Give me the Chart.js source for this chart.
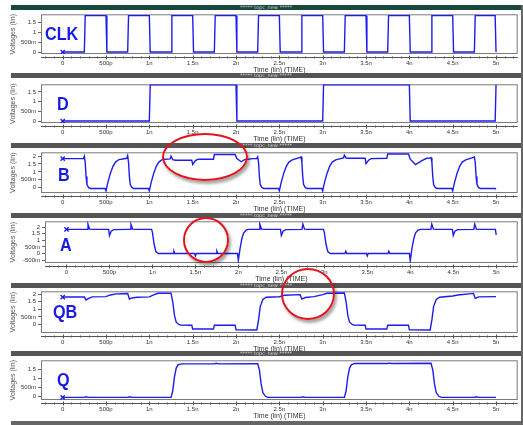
<!DOCTYPE html>
<html>
<head>
<meta charset="utf-8">
<title>topc_new</title>
<script src="https://cdn.jsdelivr.net/npm/chart.js@4.4.1/dist/chart.umd.min.js"></script>
<style>
  html, body { margin: 0; padding: 0; background: #fff; }
  #sheet { position: relative; width: 523px; height: 425px; overflow: hidden; background: #fff; }
  .bar { position: absolute; left: 11px; width: 510px; height: 5px; background: #555;
         color: #d4d4d4; font: 5px/5px "DejaVu Sans", sans-serif; text-align: center; }
  .bar.first { background: #18473b; }
  .edge { position: absolute; background: #666; }
  canvas { position: absolute; left: 0; }
  .name { position: absolute; color: #1a1ae6; font: bold 18px/18px "Liberation Sans", Arial, sans-serif;
          transform: scaleX(0.9); transform-origin: left top; }
  .ring { position: absolute; box-sizing: border-box; border: 2.5px solid #e3141c; border-radius: 50%;
          box-shadow: 2px 3px 3px rgba(0,0,0,0.35); }
</style>
</head>
<body>
<div id="sheet"></div>
<script>
// time in ns, voltages in V

const timeTicks = [0, 0.5, 1, 1.5, 2, 2.5, 3, 3.5, 4, 4.5, 5];
const timeLabels = ['0', '500p', '1n', '1.5n', '2n', '2.5n', '3n', '3.5n', '4n', '4.5n', '5n'];

const voltTicks = [-0.5, 0, 0.5, 1, 1.5, 2];
const voltLabels = ['-500m', '0', '500m', '1', '1.5', '2'];

const clkTime = [0,
  0.25, 0.26, 0.5, 0.51, 0.75, 0.76, 1, 1.01,
  1.25, 1.26, 1.5, 1.51, 1.75, 1.76, 2, 2.01,
  2.25, 2.26, 2.5, 2.51, 2.75, 2.76, 3, 3.01,
  3.25, 3.26, 3.5, 3.51, 3.75, 3.76, 4, 4.01,
  4.25, 4.26, 4.5, 4.51, 4.75, 4.76, 4.99, 5];
const clkVolt = [0,
  0, 1.86, 1.86, 0, 0, 1.86, 1.86, 0,
  0, 1.86, 1.86, 0, 0, 1.86, 1.86, 0,
  0, 1.86, 1.86, 0, 0, 1.86, 1.86, 0,
  0, 1.86, 1.86, 0, 0, 1.86, 1.86, 0,
  0, 1.86, 1.86, 0, 0, 1.86, 1.86, 0];

const dTime = [0, 1, 1.01, 2, 2.01, 3, 3.01, 4, 4.01, 4.99, 5];
const dVolt = [0, 0, 1.86, 1.86, 0, 0, 1.86, 1.86, 0, 0, 1.86];

const bTime = [
  0, 0.24,
  0.25, 0.26, 0.27, 0.28, 0.3, 0.32, 0.49,
  0.5, 0.52, 0.55, 0.58, 0.61, 0.65, 0.74,
  0.75, 0.76, 0.77, 0.78, 0.8, 0.82, 0.99,
  1.0, 1.02, 1.05, 1.08, 1.11, 1.15, 1.24,
  1.25, 1.27, 1.3, 1.49, 1.5, 1.53, 1.56, 1.74, 1.75,
  1.99, 2.01, 2.06, 2.1, 2.2, 2.24,
  2.25, 2.26, 2.27, 2.28, 2.3, 2.32, 2.49,
  2.5, 2.52, 2.55, 2.58, 2.61, 2.65, 2.74,
  2.75, 2.76, 2.77, 2.78, 2.8, 2.82, 2.99,
  3.0, 3.02, 3.05, 3.08, 3.11, 3.15, 3.24,
  3.25, 3.27, 3.3, 3.49, 3.5, 3.53, 3.56, 3.74, 3.75,
  3.99, 4.01, 4.07, 4.14, 4.2, 4.24,
  4.25, 4.26, 4.27, 4.28, 4.3, 4.32, 4.49,
  4.5, 4.52, 4.55, 4.58, 4.61, 4.65, 4.74,
  4.75, 4.76, 4.77, 4.78, 4.8, 4.82, 4.99, 5.0
];
const bVolt = [
  1.84, 1.85,
  2.0, 1.6, 0.7, 0.2, 0.0, -0.05, -0.05,
  -0.2, 0.3, 0.9, 1.35, 1.62, 1.78, 1.86,
  2.02, 1.6, 0.7, 0.2, 0.0, -0.05, -0.05,
  -0.2, 0.3, 0.9, 1.35, 1.62, 1.78, 1.82,
  2.0, 1.78, 1.74, 1.74, 1.47, 1.7, 1.8, 1.8, 2.1,
  2.1, 1.84, 1.64, 1.78, 1.84, 1.85,
  1.95, 1.6, 0.7, 0.2, 0.0, -0.05, -0.05,
  -0.2, 0.3, 0.9, 1.35, 1.62, 1.76, 1.92,
  1.95, 1.6, 0.7, 0.2, 0.0, -0.05, -0.05,
  -0.2, 0.3, 0.9, 1.35, 1.62, 1.76, 1.88,
  2.06, 1.88, 1.86, 1.86, 1.52, 1.74, 1.84, 1.86, 2.13,
  2.13, 1.8, 1.46, 1.7, 1.86, 1.87,
  1.9, 1.6, 0.7, 0.2, 0.0, -0.05, -0.05,
  -0.2, 0.3, 0.9, 1.35, 1.62, 1.76, 1.92,
  1.95, 1.6, 0.7, 0.2, 0.0, -0.05, -0.05, -0.1
];

const aTime = [
  0, 0.24, 0.25, 0.27, 0.3,
  0.49, 0.5, 0.52, 0.55,
  0.74, 0.75, 0.77, 0.8,
  0.99, 1.0, 1.02, 1.04, 1.07,
  1.24, 1.25, 1.26, 1.49, 1.5, 1.51, 1.74, 1.75, 1.76,
  1.99, 2.0, 2.02, 2.04, 2.06, 2.09, 2.12,
  2.24, 2.25, 2.27, 2.3,
  2.49, 2.5, 2.52, 2.55,
  2.74, 2.75, 2.77, 2.8,
  2.99, 3.0, 3.02, 3.04, 3.07,
  3.24, 3.25, 3.26, 3.49, 3.5, 3.51, 3.74, 3.75, 3.76,
  3.99, 4.0, 4.02, 4.04, 4.06, 4.09, 4.12,
  4.24, 4.25, 4.27, 4.3,
  4.49, 4.5, 4.52, 4.55,
  4.74, 4.75, 4.77, 4.8,
  4.99, 5.0
];
const aVolt = [
  1.82, 1.82, 2.22, 1.84, 1.82,
  1.82, 1.36, 1.68, 1.8,
  1.82, 2.2, 1.84, 1.82,
  1.82, 1.6, 0.7, 0.15, 0.0,
  0.0, 0.17, 0.0, 0.0, -0.18, 0.0, 0.0, 0.17, 0.0,
  0.0, -0.5, 0.4, 1.1, 1.55, 1.76, 1.82,
  1.82, 2.22, 1.84, 1.82,
  1.82, 1.36, 1.68, 1.8,
  1.82, 2.22, 1.84, 1.82,
  1.82, 1.6, 0.7, 0.15, 0.0,
  0.0, 0.17, 0.0, 0.0, -0.18, 0.0, 0.0, 0.17, 0.0,
  0.0, -0.55, 0.4, 1.1, 1.55, 1.76, 1.82,
  1.82, 2.22, 1.84, 1.82,
  1.82, 1.36, 1.68, 1.8,
  1.82, 2.22, 1.84, 1.82,
  1.82, 1.4
];

const qbTime = [
  0, 0.25, 0.27, 0.3, 0.34,
  0.5, 0.55, 0.62, 0.75, 0.77, 0.8, 0.86,
  1.0, 1.05, 1.1, 1.25,
  1.27, 1.29, 1.31, 1.34, 1.36,
  1.49, 1.5, 1.74, 1.75, 1.99, 2.0, 2.24,
  2.26, 2.28, 2.31, 2.35,
  2.5, 2.56, 2.74, 2.76, 2.8, 2.9,
  3.0, 3.05, 3.25,
  3.27, 3.29, 3.31, 3.34, 3.36,
  3.49, 3.5, 3.74, 3.75, 3.99, 4.0, 4.24,
  4.26, 4.28, 4.31, 4.35,
  4.5, 4.56, 4.74, 4.76, 4.8, 5.0
];
const qbVolt = [
  1.81, 1.81, 1.62, 1.72, 1.82,
  1.84, 1.95, 2.02, 2.04, 1.68, 1.75, 1.8,
  1.82, 1.95, 2.06, 2.07,
  1.5, 0.6, 0.15, 0.0, -0.04,
  -0.05, -0.3, -0.3, -0.04, -0.05, -0.35, -0.36,
  0.3, 1.2, 1.65, 1.8,
  1.83, 1.93, 1.97, 1.68, 1.78, 1.84,
  1.97, 2.06, 2.08,
  1.5, 0.6, 0.15, 0.0, -0.04,
  -0.05, -0.3, -0.3, -0.04, -0.05, -0.35, -0.36,
  0.3, 1.2, 1.65, 1.8,
  1.88, 1.95, 2.05, 1.72, 1.82, 1.84
];

const qTime = [
  0, 0.25, 0.27, 0.3, 0.75, 0.77, 0.8,
  1.25, 1.27, 1.29, 1.31, 1.33, 1.37,
  1.75, 1.77, 1.8, 2.25,
  2.27, 2.29, 2.31, 2.34, 2.37,
  2.75, 2.77, 2.8, 3.25,
  3.27, 3.29, 3.31, 3.33, 3.37,
  3.75, 3.77, 3.8, 4.25,
  4.27, 4.29, 4.31, 4.34, 4.37,
  4.75, 4.77, 4.8, 5.0
];
const qVolt = [
  -0.06, -0.06, -0.03, -0.06, -0.06, -0.03, -0.06,
  -0.06, 0.3, 1.1, 1.6, 1.78, 1.84,
  1.84, 1.87, 1.84, 1.85,
  1.5, 0.7, 0.2, 0.0, -0.06,
  -0.06, -0.03, -0.06, -0.06,
  0.3, 1.1, 1.6, 1.78, 1.86,
  1.86, 1.88, 1.86, 1.87,
  1.5, 0.7, 0.2, 0.0, -0.06,
  -0.06, -0.03, -0.06, -0.06
];

// panel layout (pixels) and per panel voltage window
const panels = [
  { name: 'CLK', time: clkTime, volt: clkVolt, yMin: -0.1, yMax: 1.93, yTicks: [0, 0.5, 1, 1.5],
    bar: 5, top: 12, bottom: 54, left: 41, nameAt: [45, 25] },
  { name: 'D', time: dTime, volt: dVolt, yMin: -0.1, yMax: 1.89, yTicks: [0, 0.5, 1, 1.5],
    bar: 73, top: 82, bottom: 123, left: 41, nameAt: [57, 95] },
  { name: 'B', time: bTime, volt: bVolt, yMin: -0.34, yMax: 2.24, yTicks: [0, 0.5, 1, 1.5, 2],
    bar: 143, top: 150, bottom: 193, left: 41, nameAt: [58, 166] },
  { name: 'A', time: aTime, volt: aVolt, yMin: -0.71, yMax: 2.43, yTicks: [-0.5, 0, 0.5, 1, 1.5, 2],
    bar: 213, top: 219, bottom: 263, left: 45, nameAt: [60, 236] },
  { name: 'QB', time: qbTime, volt: qbVolt, yMin: -0.56, yMax: 2.19, yTicks: [0, 0.5, 1, 1.5, 2],
    bar: 283, top: 289, bottom: 333, left: 41, nameAt: [53, 303] },
  { name: 'Q', time: qTime, volt: qVolt, yMin: -0.21, yMax: 2.04, yTicks: [0, 0.5, 1, 1.5],
    bar: 351, top: 358, bottom: 400, left: 41, nameAt: [57, 371] }
];

const rings = [
  { left: 162, top: 133, w: 86, h: 48 },
  { left: 183, top: 217, w: 46, h: 46 },
  { left: 281, top: 268, w: 54, h: 52 }
];

const LINE = '#1c1cef';

Chart.defaults.font.family = '"Liberation Sans", Arial, sans-serif';

const timeLabel = (v) => {
  const i = timeTicks.findIndex(t => Math.abs(t - v) < 1e-6);
  return i < 0 ? '' : timeLabels[i];
};
const voltLabel = (v) => {
  const i = voltTicks.findIndex(t => Math.abs(t - v) < 1e-6);
  return i < 0 ? '' : voltLabels[i];
};

// ruler ticks every 100p across the whole window
const rulerTicks = () => {
  const out = [];
  for (let k = -2; k <= 52; k++) out.push({ value: k / 10 });
  return out;
};

// plot frame plus the separate time ruler under it
const frameRuler = {
  id: 'frameRuler',
  beforeDatasetsDraw(chart) {
    const { ctx, chartArea: a, scales: { x } } = chart;
    ctx.save();
    ctx.lineWidth = 1;
    ctx.strokeStyle = '#7a7a7a';
    ctx.strokeRect(a.left + 0.5, a.top + 0.5, a.width - 1, a.height - 1);
    const yl = a.bottom + 3.5;
    ctx.strokeStyle = '#555';
    ctx.beginPath();
    ctx.moveTo(a.left, yl);
    ctx.lineTo(a.right, yl);
    x.ticks.forEach(t => {
      const px = Math.round(x.getPixelForValue(t.value)) + 0.5;
      const major = timeLabel(t.value) !== '';
      ctx.moveTo(px, yl - (major ? 2 : 1));
      ctx.lineTo(px, yl + (major ? 2 : 1));
    });
    ctx.stroke();
    ctx.restore();
  }
};

const sheet = document.getElementById('sheet');

panels.forEach((p, i) => {
  const bar = document.createElement('div');
  bar.className = 'bar' + (i === 0 ? ' first' : '');
  bar.style.top = p.bar + 'px';
  bar.textContent = '***** topc_new *****';
  sheet.appendChild(bar);

  const cTop = p.top - 3;
  const cv = document.createElement('canvas');
  cv.width = 523;
  cv.height = p.bottom - cTop + 20;
  cv.style.top = cTop + 'px';
  sheet.appendChild(cv);

  new Chart(cv, {
    type: 'line',
    data: {
      datasets: [{
        data: p.time.map((t, k) => ({ x: t, y: p.volt[k] })),
        borderColor: LINE,
        borderWidth: 1.4,
        fill: false,
        pointStyle: 'crossRot',
        pointRadius: c => (c.dataIndex === 0 ? 3 : 0),
        pointBorderColor: LINE,
        pointBorderWidth: 1.3
      }]
    },
    options: {
      responsive: false,
      animation: false,
      events: [],
      layout: { padding: { top: 3, right: 3, left: 0, bottom: 0 } },
      plugins: { legend: { display: false }, tooltip: { enabled: false } },
      scales: {
        x: {
          type: 'linear', min: -0.25, max: 5.25,
          afterBuildTicks: s => { s.ticks = rulerTicks(); },
          afterFit: s => { s.height = 20; s.paddingLeft = 0; s.paddingRight = 0; },
          grid: { drawOnChartArea: false, color: 'rgba(0,0,0,0)', tickLength: 4 },
          border: { display: false },
          ticks: { autoSkip: false, maxRotation: 0, minRotation: 0, padding: 2,
                   font: { size: 6 }, color: '#333', callback: timeLabel },
          title: { display: true, text: 'Time (lin) (TIME)', font: { size: 7 }, color: '#333',
                   padding: { top: 0, bottom: 0 } }
        },
        y: {
          min: p.yMin, max: p.yMax,
          afterFit: s => { s.width = p.left; s.paddingTop = 0; s.paddingBottom = 0; },
          afterBuildTicks: s => { s.ticks = p.yTicks.map(v => ({ value: v })); },
          grid: { drawOnChartArea: false, color: '#666', tickLength: 3 },
          border: { display: false },
          ticks: { autoSkip: false, padding: 2, font: { size: 6 }, color: '#333', callback: voltLabel },
          title: { display: true, text: 'Voltages (lin)', font: { size: 7 }, color: '#555',
                   padding: { top: 9, bottom: 0 } }
        }
      }
    },
    plugins: [frameRuler]
  });

  const nm = document.createElement('div');
  nm.className = 'name';
  nm.style.left = p.nameAt[0] + 'px';
  nm.style.top = p.nameAt[1] + 'px';
  nm.textContent = p.name;
  sheet.appendChild(nm);
});

// window frame bits
[[521, 5, 2, 420], [11, 421, 512, 4]].forEach(([l, t, w, h]) => {
  const e = document.createElement('div');
  e.className = 'edge';
  Object.assign(e.style, { left: l + 'px', top: t + 'px', width: w + 'px', height: h + 'px' });
  sheet.appendChild(e);
});

// red annotation rings
rings.forEach(r => {
  const e = document.createElement('div');
  e.className = 'ring';
  Object.assign(e.style, { left: r.left + 'px', top: r.top + 'px', width: r.w + 'px', height: r.h + 'px' });
  sheet.appendChild(e);
});
</script>
</body>
</html>
